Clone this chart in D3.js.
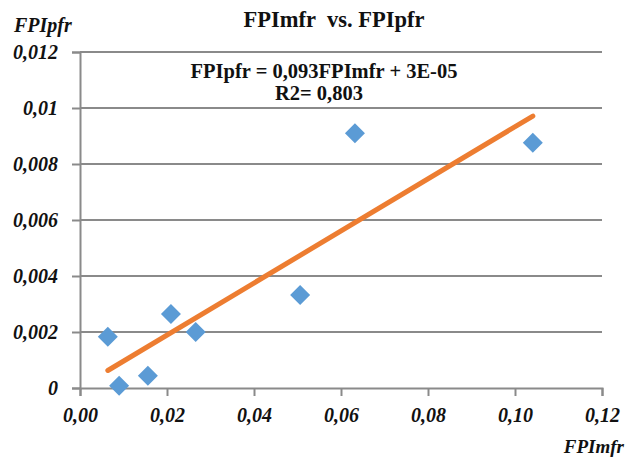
<!DOCTYPE html>
<html>
<head>
<meta charset="utf-8">
<script src="https://cdn.jsdelivr.net/npm/d3@7"></script>
<style>
  body { margin: 0; background: #fff; }
  svg text { font-family: "Liberation Serif", "Times New Roman", serif; font-weight: bold; fill: #111; }
</style>
</head>
<body>
<div id="chart"></div>
<script>
// data
const fpiMfr = [0.0064, 0.0090, 0.0156, 0.0209, 0.0266, 0.0506, 0.0632, 0.1041]
const fpiPfr = [0.00183, 0.00008, 0.00044, 0.00264, 0.0020, 0.00332, 0.0091, 0.00876]
const xTicks = [0, 0.02, 0.04, 0.06, 0.08, 0.10, 0.12]
const yTicks = [0, 0.002, 0.004, 0.006, 0.008, 0.01, 0.012]
const slope = 0.093
const intercept = 0.00003

const dms = {
    width: 632,
    height: 459,
    margin: { top: 52, right: 30, bottom: 71, left: 80 }
}
dms.contentWidth = dms.width - dms.margin.left - dms.margin.right
dms.contentHeight = dms.height - dms.margin.top - dms.margin.bottom

const svg = d3.select('#chart').append('svg')
    .attr('width', dms.width)
    .attr('height', dms.height)

const content = svg.append('g')
    .attr('transform', `translate(${dms.margin.left},${dms.margin.top})`)

const xScale = d3.scaleLinear().domain([0, 0.12]).range([0, dms.contentWidth])
const yScale = d3.scaleLinear().domain([0, 0.012]).range([dms.contentHeight, 0])

const xFmt = v => d3.format('.2f')(v).replace('.', ',')
const yFmt = v => v === 0 ? '0' : String(+v.toFixed(3)).replace('.', ',')

// gridlines
content.append('g')
    .selectAll('line')
    .data(yTicks.slice(1))
    .join('line')
    .attr('x1', 0)
    .attr('x2', dms.contentWidth)
    .attr('y1', d => yScale(d))
    .attr('y2', d => yScale(d))
    .attr('stroke', '#8a8a8a')
    .attr('stroke-width', 2)

function styleAxis(g) {
    g.select('.domain').attr('stroke', '#8a8a8a').attr('stroke-width', 2)
    g.selectAll('.tick line').attr('stroke', '#8a8a8a').attr('stroke-width', 2)
    g.selectAll('.tick text')
        .attr('font-size', 20)
        .attr('font-style', 'italic')
        .attr('fill', '#111')
}

const yAxis = content.append('g')
    .call(d3.axisLeft(yScale).tickValues(yTicks).tickSize(8).tickPadding(14).tickFormat(yFmt))
    .call(styleAxis)

const xAxis = content.append('g')
    .attr('transform', `translate(0,${dms.contentHeight})`)
    .call(d3.axisBottom(xScale).tickValues(xTicks).tickSize(8).tickPadding(12).tickFormat(xFmt))
    .call(styleAxis)

// points
const pts = fpiMfr.map((x, i) => ({ x, y: fpiPfr[i] }))
content.append('g')
    .selectAll('path')
    .data(pts)
    .join('path')
    .attr('d', d3.symbol(d3.symbolSquare, 200))
    .attr('transform', d => `translate(${xScale(d.x)},${yScale(d.y)}) rotate(45)`)
    .attr('fill', '#5b9bd5')

// trend line
const lineGen = d3.line()
    .x(d => xScale(d))
    .y(d => yScale(slope * d + intercept))
content.append('path')
    .attr('d', lineGen(d3.extent(fpiMfr)))
    .attr('fill', 'none')
    .attr('stroke', '#ed7d31')
    .attr('stroke-width', 5)
    .attr('stroke-linecap', 'round')

// texts
svg.append('text')
    .attr('x', 334)
    .attr('y', 27)
    .attr('text-anchor', 'middle')
    .attr('font-size', 22.5)
    .attr('xml:space', 'preserve')
    .text('FPImfr  vs. FPIpfr')

svg.append('text')
    .attr('x', 14)
    .attr('y', 32)
    .attr('font-size', 20)
    .attr('font-style', 'italic')
    .text('FPIpfr')

svg.append('text')
    .attr('x', 624)
    .attr('y', 453)
    .attr('text-anchor', 'end')
    .attr('font-size', 19)
    .attr('font-style', 'italic')
    .text('FPImfr')

svg.append('text')
    .attr('x', 324)
    .attr('y', 78)
    .attr('text-anchor', 'middle')
    .attr('font-size', 20.5)
    .text('FPIpfr = 0,093FPImfr + 3E-05')

svg.append('text')
    .attr('x', 319)
    .attr('y', 100)
    .attr('text-anchor', 'middle')
    .attr('font-size', 20.5)
    .text('R2= 0,803')
</script>
</body>
</html>
